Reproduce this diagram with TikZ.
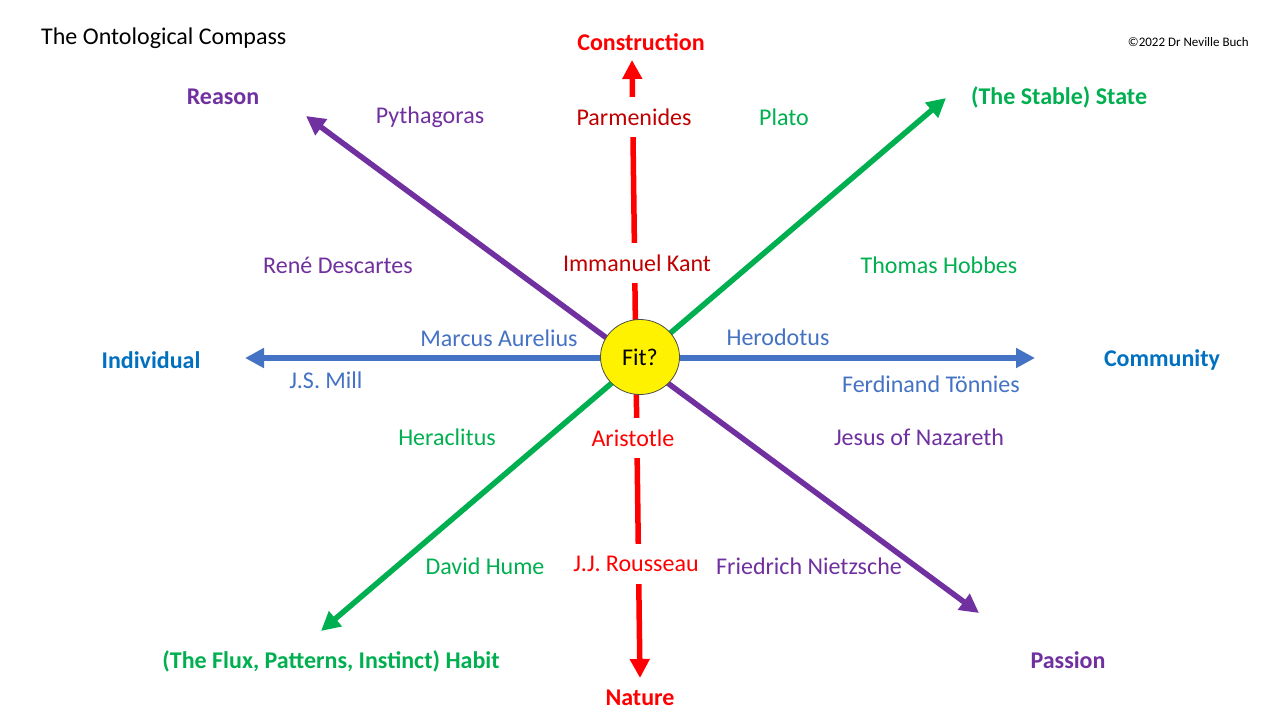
\documentclass[tikz,border=0pt]{standalone}
\usepackage{fontspec}
\setmainfont{Carlito}
\usetikzlibrary{arrows.meta,shapes.geometric}
\definecolor{cpurple}{HTML}{7030A0}
\definecolor{cgreen}{HTML}{00B050}
\definecolor{cblue}{HTML}{4472C4}
\definecolor{cdblue}{HTML}{0070C0}
\definecolor{cred}{HTML}{FF0000}
\definecolor{cdred}{HTML}{C00000}
\tikzset{
  axisline/.style={line width=5.5pt, arrows={Triangle[length=19pt,width=19pt]-Triangle[length=19pt,width=19pt]}},
  philo/.style={font=\fontsize{24}{28}\selectfont, inner sep=0pt},
  polelabel/.style={font=\fontsize{24}{28}\selectfont\bfseries, inner sep=0pt},
  redphilo/.style={philo, fill=white, minimum height=40pt, inner xsep=3pt},
}
\begin{document}
\begin{tikzpicture}[x=1pt,y=-1pt]
\useasboundingbox[fill=white] (0,0) rectangle (1280,720);
% axis end points
\coordinate (bW) at (245,358);
\coordinate (bE) at (1035,358);
\coordinate (pNW) at (306,116);
\coordinate (pSE) at (979,613);
\coordinate (gNE) at (946,98);
\coordinate (gSW) at (321,631);
\coordinate (rN) at (632,60);
\coordinate (rS) at (640,678);
% axes
\draw[axisline, cblue] (bW) -- (bE);
\draw[axisline, cpurple] (pNW) -- (pSE);
\draw[axisline, cgreen] (gSW) -- (gNE);
\draw[axisline, cred] (rN) -- (rS);
% centre
\node[ellipse, draw=black!70, line width=0.8pt, fill=yellow, minimum width=79pt, minimum height=75pt, font=\fontsize{24}{28}\selectfont] (fit) at (640,357) {Fit?};
% title and copyright
\node[philo, anchor=west] (title) at (41,38) {The Ontological Compass};
\node[font=\fontsize{13}{15}\selectfont, inner sep=0pt, anchor=east] (copy) at (1249,42) {©2022 Dr Neville Buch};
% pole labels
\node[polelabel, text=cred] (construction) at (641,42) {Construction};
\node[polelabel, text=cred] (nature) at (640,698) {Nature};
\node[polelabel, text=cpurple] (reason) at (223,97) {Reason};
\node[polelabel, text=cpurple] (passion) at (1068,660) {Passion};
\node[polelabel, text=cgreen] (state) at (1059,97) {(The Stable) State};
\node[polelabel, text=cgreen] (habit) at (331,661) {(The Flux, Patterns, Instinct) Habit};
\node[polelabel, text=cdblue] (individual) at (151,360) {Individual};
\node[polelabel, text=cdblue] (community) at (1162,360) {Community};
% red names
\node[redphilo, text=cdred] (parmenides) at (634,117) {Parmenides};
\node[redphilo, text=cdred] (kant) at (637,263) {Immanuel Kant};
\node[redphilo, text=cred] (aristotle) at (633,438) {Aristotle};
\node[redphilo, text=cred] (rousseau) at (636,564) {J.J. Rousseau};
% purple names
\node[philo, text=cpurple] (pythagoras) at (430,117) {Pythagoras};
\node[philo, text=cpurple] (descartes) at (338,265) {René Descartes};
\node[philo, text=cpurple] (jesus) at (919,437) {Jesus of Nazareth};
\node[philo, text=cpurple] (nietzsche) at (809,566) {Friedrich Nietzsche};
% green names
\node[philo, text=cgreen] (plato) at (784,117) {Plato};
\node[philo, text=cgreen] (hobbes) at (939,265) {Thomas Hobbes};
\node[philo, text=cgreen] (heraclitus) at (447,437) {Heraclitus};
\node[philo, text=cgreen] (hume) at (485,566) {David Hume};
% blue names
\node[philo, text=cblue] (aurelius) at (499,338) {Marcus Aurelius};
\node[philo, text=cblue] (herodotus) at (778,337) {Herodotus};
\node[philo, text=cblue] (mill) at (326,380) {J.S. Mill};
\node[philo, text=cblue] (tonnies) at (931,384) {Ferdinand Tönnies};
\end{tikzpicture}
\end{document}
